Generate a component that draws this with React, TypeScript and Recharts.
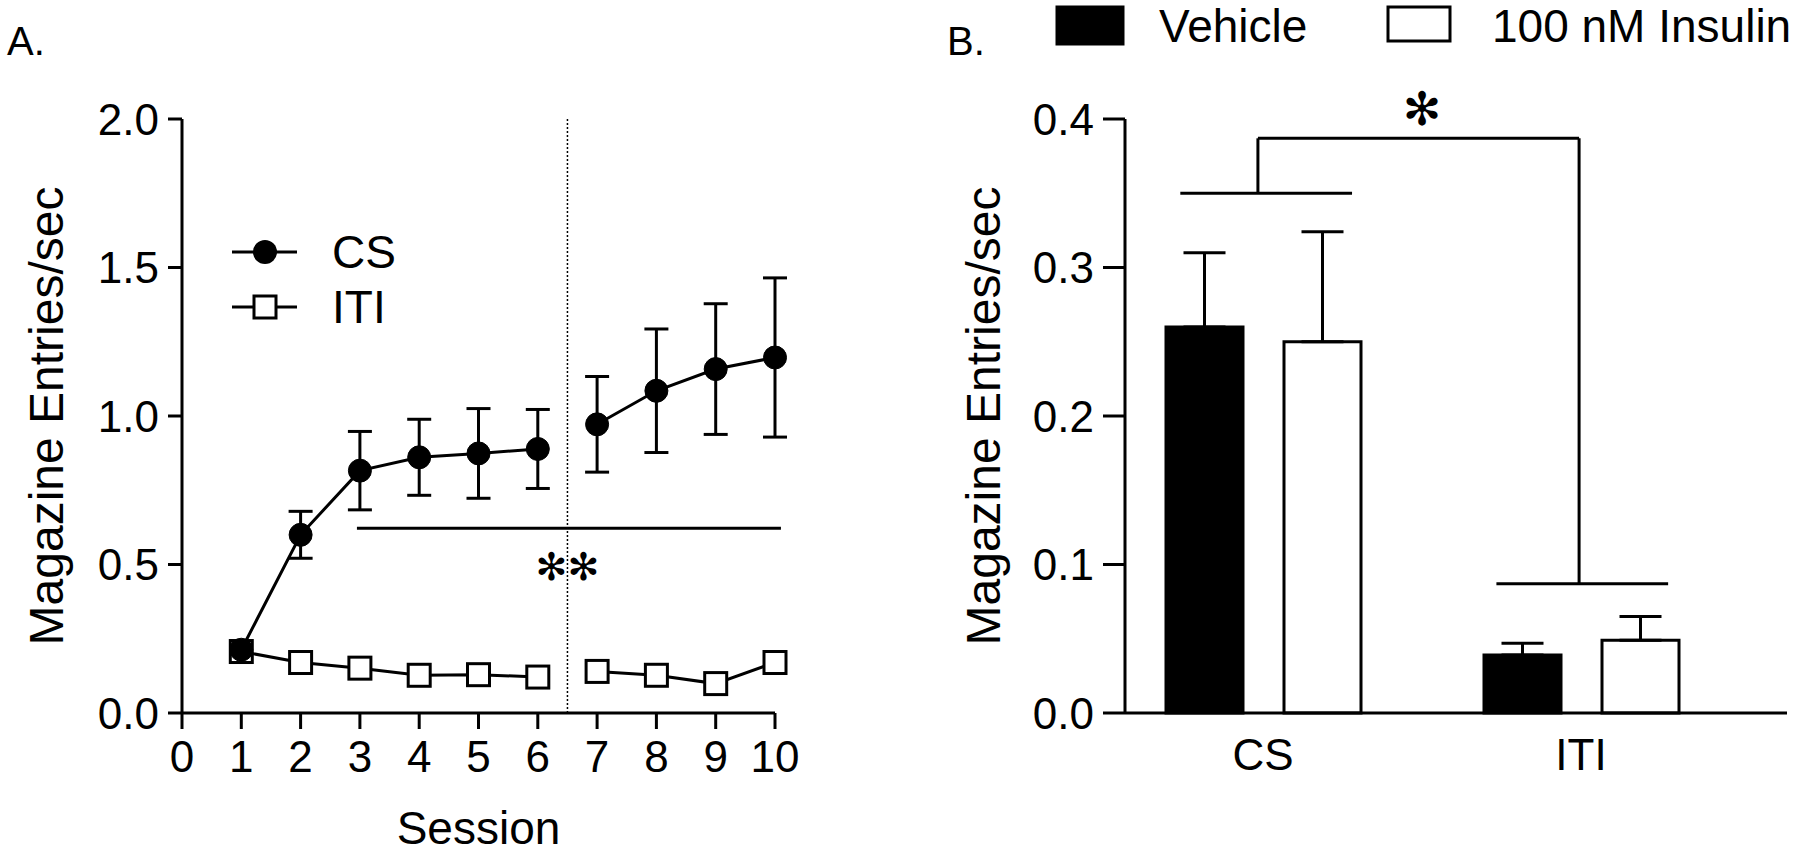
import React from 'react';
import {
  LineChart,
  Line,
  BarChart,
  Bar,
  XAxis,
  YAxis,
  ErrorBar,
  ReferenceLine,
  ReferenceDot,
  Legend,
} from 'recharts';

const FONT = '"Liberation Sans", Arial, Helvetica, sans-serif';
const STAR_FONT = '"DejaVu Sans", sans-serif';

// Panel A: acquisition across sessions (break between session 6 and 7)
const sessionsEarly = [1, 2, 3, 4, 5, 6];
const sessionsLate = [7, 8, 9, 10];
const csEarly = [0.213, 0.6, 0.816, 0.861, 0.874, 0.889];
const csLate = [0.972, 1.085, 1.158, 1.197];
const csSemEarly = [0, 0.079, 0.132, 0.128, 0.151, 0.133];
const csSemLate = [0.161, 0.208, 0.22, 0.268];
const itiEarly = [0.207, 0.17, 0.151, 0.127, 0.129, 0.121];
const itiLate = [0.14, 0.127, 0.099, 0.17];
const sessionTicks = [0, 1, 2, 3, 4, 5, 6, 7, 8, 9, 10];
const rateTicksA = [0, 0.5, 1, 1.5, 2];
const seriesA = ['CS', 'ITI'];

// Panel B: test
const trialTypes = ['CS', 'ITI'];
const vehicleMeans = [0.26, 0.039];
const vehicleSem = [0.05, 0.008];
const insulinMeans = [0.25, 0.049];
const insulinSem = [0.074, 0.016];
const rateTicksB = [0, 0.1, 0.2, 0.3, 0.4];
const seriesB = ['Vehicle', '100 nM Insulin'];

const makeSessionRows = (sessions: number[], cs: number[], csSem: number[], iti: number[]) =>
  sessions.map((s, i) => ({ session: s, cs: cs[i], csSem: csSem[i], iti: iti[i] }));

const rowsEarly = makeSessionRows(sessionsEarly, csEarly, csSemEarly, itiEarly);
const rowsLate = makeSessionRows(sessionsLate, csLate, csSemLate, itiLate);

const barRows = trialTypes.map((t, i) => ({
  type: t,
  vehicle: vehicleMeans[i],
  vehicleErr: [0, vehicleSem[i]],
  insulin: insulinMeans[i],
  insulinErr: [0, insulinSem[i]],
}));

const tickStyle = { fill: '#000', fontSize: 44, fontFamily: FONT };
const axisStroke = { stroke: '#000', strokeWidth: 3 };

const SquareDot = (props: any) => {
  const { cx, cy, index } = props;
  return (
    <rect
      key={`sq-${index}-${cx}`}
      x={cx - 11}
      y={cy - 11}
      width={22}
      height={22}
      fill="#fff"
      stroke="#000"
      strokeWidth={3}
    />
  );
};

const starShape = (label: string, size: number) => (p: any) => (
  <text
    x={p.cx}
    y={p.cy}
    textAnchor="middle"
    dominantBaseline="central"
    fontSize={size}
    fontFamily={STAR_FONT}
    fill="#000"
  >
    {label}
  </text>
);

const SessionLegend = () => (
  <svg width={220} height={110}>
    {seriesA.map((name, i) => {
      const y = 27 + i * 55;
      return (
        <g key={name}>
          <line x1={0} x2={65} y1={y} y2={y} stroke="#000" strokeWidth={3} />
          {name === 'CS' ? (
            <circle cx={33} cy={y} r={12} fill="#000" />
          ) : (
            <rect x={22} y={y - 11} width={22} height={22} fill="#fff" stroke="#000" strokeWidth={3} />
          )}
          <text x={100} y={y} dominantBaseline="central" fontSize={46} fontFamily={FONT} fill="#000">
            {name}
          </text>
        </g>
      );
    })}
  </svg>
);

const TreatmentLegend = () => (
  <svg width={900} height={60}>
    {seriesB.map((name, i) => {
      const x = i === 0 ? 157 : 488;
      return (
        <g key={name}>
          <rect
            x={x}
            y={7}
            width={i === 0 ? 66 : 62}
            height={i === 0 ? 37 : 34}
            fill={i === 0 ? '#000' : '#fff'}
            stroke="#000"
            strokeWidth={3}
          />
          <text x={x + (i === 0 ? 102 : 104)} y={26} dominantBaseline="central" fontSize={46} fontFamily={FONT} fill="#000">
            {name}
          </text>
        </g>
      );
    })}
  </svg>
);

function SessionChart() {
  return (
    <LineChart width={900} height={854} margin={{ top: 119, right: 125, bottom: 61, left: 0 }}>
      <XAxis
        dataKey="session"
        type="number"
        domain={[0, 10]}
        ticks={sessionTicks}
        interval={0}
        height={80}
        tick={tickStyle}
        tickSize={16}
        tickMargin={12}
        axisLine={axisStroke}
        tickLine={axisStroke}
        label={{ value: 'Session', position: 'bottom', offset: 18, fontSize: 46, fontFamily: FONT, fill: '#000' }}
      />
      <YAxis
        type="number"
        domain={[0, 2]}
        ticks={rateTicksA}
        width={182}
        tick={tickStyle}
        tickSize={14}
        tickMargin={9}
        axisLine={axisStroke}
        tickLine={axisStroke}
        tickFormatter={(v: number) => v.toFixed(1)}
      />
      <ReferenceLine x={6.5} stroke="#000" strokeWidth={1.5} strokeDasharray="2 2" />
      <ReferenceLine
        segment={[{ x: 2.95, y: 0.622 }, { x: 10.1, y: 0.622 }]}
        stroke="#000"
        strokeWidth={3}
        ifOverflow="visible"
      />
      <ReferenceDot x={6.5} y={0.493} ifOverflow="visible" shape={starShape('✻✻', 38)} />
      <Line data={rowsEarly} dataKey="iti" name="ITI" stroke="#000" strokeWidth={3} dot={SquareDot} activeDot={false} isAnimationActive={false} />
      <Line data={rowsLate} dataKey="iti" name="ITI" legendType="none" stroke="#000" strokeWidth={3} dot={SquareDot} activeDot={false} isAnimationActive={false} />
      <Line
        data={rowsEarly}
        dataKey="cs"
        name="CS"
        stroke="#000"
        strokeWidth={3}
        dot={{ r: 11.5, fill: '#000', stroke: '#000', strokeWidth: 1 }}
        activeDot={false}
        isAnimationActive={false}
      >
        <ErrorBar dataKey="csSem" direction="y" width={12} stroke="#000" strokeWidth={3} />
      </Line>
      <Line
        data={rowsLate}
        dataKey="cs"
        name="CS"
        legendType="none"
        stroke="#000"
        strokeWidth={3}
        dot={{ r: 11.5, fill: '#000', stroke: '#000', strokeWidth: 1 }}
        activeDot={false}
        isAnimationActive={false}
      >
        <ErrorBar dataKey="csSem" direction="y" width={12} stroke="#000" strokeWidth={3} />
      </Line>
      <Legend
        layout="vertical"
        align="center"
        verticalAlign="middle"
        content={<SessionLegend />}
        wrapperStyle={{ left: 232, top: 225, width: 220 }}
      />
    </LineChart>
  );
}

// bracket positions along the category range, 0 = left edge, 1 = right edge
const bracketCsX = [0.12, 0.39];
const bracketItiX = [0.617, 0.887];
const bracketStemX = [0.242, 0.747];
const bracketY = { cs: 0.35, iti: 0.087, top: 0.387, star: 0.407 };

function TestChart() {
  return (
    <BarChart
      width={900}
      height={854}
      data={barRows}
      margin={{ top: 119, right: 13, bottom: 81, left: 0 }}
      barSize={77}
      barGap={41}
    >
      <XAxis
        xAxisId="cat"
        dataKey="type"
        type="category"
        height={60}
        padding={{ left: -21, right: 47 }}
        tick={tickStyle}
        tickSize={0}
        tickMargin={26}
        axisLine={axisStroke}
        tickLine={false}
      />
      <XAxis
        xAxisId="num"
        type="number"
        domain={[0, 1]}
        allowDataOverflow
        padding={{ left: -21, right: 47 }}
        hide
      />
      <YAxis
        type="number"
        domain={[0, 0.4]}
        ticks={rateTicksB}
        width={225}
        tick={tickStyle}
        tickSize={22}
        tickMargin={9}
        axisLine={axisStroke}
        tickLine={axisStroke}
        tickFormatter={(v: number) => v.toFixed(1)}
      />
      <Bar xAxisId="cat" dataKey="vehicle" name="Vehicle" fill="#000" stroke="#000" strokeWidth={3} isAnimationActive={false}>
        <ErrorBar dataKey="vehicleErr" direction="y" width={21} stroke="#000" strokeWidth={3} />
      </Bar>
      <Bar xAxisId="cat" dataKey="insulin" name="100 nM Insulin" fill="#fff" stroke="#000" strokeWidth={3} isAnimationActive={false}>
        <ErrorBar dataKey="insulinErr" direction="y" width={21} stroke="#000" strokeWidth={3} />
      </Bar>
      {/* significance bracket: CS vs ITI */}
      <ReferenceLine xAxisId="num" segment={[{ x: bracketCsX[0], y: bracketY.cs }, { x: bracketCsX[1], y: bracketY.cs }]} stroke="#000" strokeWidth={3} ifOverflow="visible" />
      <ReferenceLine xAxisId="num" segment={[{ x: bracketItiX[0], y: bracketY.iti }, { x: bracketItiX[1], y: bracketY.iti }]} stroke="#000" strokeWidth={3} ifOverflow="visible" />
      <ReferenceLine xAxisId="num" segment={[{ x: bracketStemX[0], y: bracketY.cs }, { x: bracketStemX[0], y: bracketY.top }]} stroke="#000" strokeWidth={3} ifOverflow="visible" />
      <ReferenceLine xAxisId="num" segment={[{ x: bracketStemX[0], y: bracketY.top }, { x: bracketStemX[1], y: bracketY.top }]} stroke="#000" strokeWidth={3} ifOverflow="visible" />
      <ReferenceLine xAxisId="num" segment={[{ x: bracketStemX[1], y: bracketY.top }, { x: bracketStemX[1], y: bracketY.iti }]} stroke="#000" strokeWidth={3} ifOverflow="visible" />
      <ReferenceDot xAxisId="num" x={0.5} y={bracketY.star} ifOverflow="visible" shape={starShape('✻', 46)} />
      <Legend
        layout="vertical"
        align="center"
        verticalAlign="middle"
        content={<TreatmentLegend />}
        wrapperStyle={{ left: 0, top: 0, width: 900 }}
      />
    </BarChart>
  );
}

export default function App() {
  return (
    <div style={{ position: 'absolute', left: 0, top: 0, width: 1800, height: 854, background: '#fff', overflow: 'hidden' }}>
      <div style={{ position: 'absolute', left: 0, top: 0 }}>
        <SessionChart />
      </div>
      <div style={{ position: 'absolute', left: 900, top: 0 }}>
        <TestChart />
      </div>
      <svg width={1800} height={854} style={{ position: 'absolute', left: 0, top: 0, pointerEvents: 'none' }}>
        <g fontFamily={FONT} fill="#000">
          <text x={7} y={55} fontSize={40}>A.</text>
          <text x={947} y={55} fontSize={40}>B.</text>
          <text x={46} y={416} fontSize={48} textAnchor="middle" dominantBaseline="central" transform="rotate(-90 46 416)">
            Magazine Entries/sec
          </text>
          <text x={983} y={416} fontSize={48} textAnchor="middle" dominantBaseline="central" transform="rotate(-90 983 416)">
            Magazine Entries/sec
          </text>
        </g>
      </svg>
    </div>
  );
}
